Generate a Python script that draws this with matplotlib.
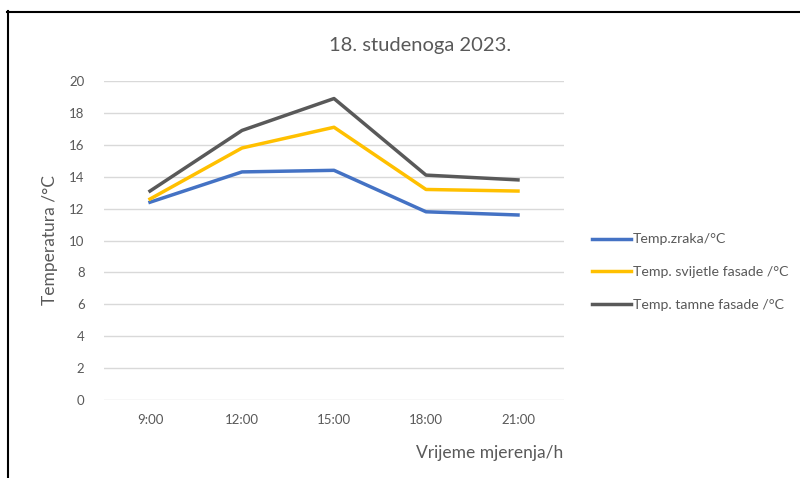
import matplotlib
matplotlib.use("Agg")
from matplotlib import pyplot as plt
from matplotlib.lines import Line2D

plt.rcParams['font.family'] = ['Lato', 'DejaVu Sans']

times = ["9:00", "12:00", "15:00", "18:00", "21:00"]
zrak = [12.4, 14.3, 14.4, 11.8, 11.6]
svijetla = [12.6, 15.8, 17.1, 13.2, 13.1]
tamna = [13.1, 16.9, 18.9, 14.1, 13.8]

grey_text = '#595959'

fig = plt.figure(figsize=(8, 4.78), dpi=100)
ax = fig.add_axes([104/800, 1 - 400/478, 460/800, 319/478])

x = range(len(times))
ax.plot(x, zrak, color='#4472c4', lw=2.5, label='Temp.zraka/°C')
ax.plot(x, svijetla, color='#ffc000', lw=2.5, label='Temp. svijetle fasade /°C')
ax.plot(x, tamna, color='#595959', lw=2.5, label='Temp. tamne fasade /°C')

ax.set_xlim(-0.5, 4.5)
ax.set_ylim(0, 20)
ax.set_yticks(range(0, 21, 2))
ax.set_xticks(list(x))
ax.set_xticklabels(times)
ax.grid(axis='y', color='#d9d9d9', lw=1)
ax.set_axisbelow(True)
for s in ax.spines.values():
    s.set_visible(False)
ax.tick_params(length=0, colors=grey_text, labelsize=9.5)
ax.tick_params(axis='y', pad=14)
ax.tick_params(axis='x', pad=10)

fig.text(420/800, 1 - 46/478, "18. studenoga 2023.", ha='center', va='center',
         fontsize=14.5, color=grey_text)
fig.text(50/800, 1 - 240/478, "Temperatura /°C", rotation=90, ha='center', va='center',
         fontsize=12.5, color=grey_text)
fig.text(563/800, 1 - 453/478, "Vrijeme mjerenja/h", ha='right', va='center',
         fontsize=12.5, color=grey_text)

fig.legend(loc='center left', bbox_to_anchor=(579/800, 1 - 272/478), frameon=False,
           fontsize=10.2, labelcolor=grey_text, handlelength=2.75, handletextpad=0.15,
           labelspacing=1.45, borderpad=0.4)

# outer border
fig.add_artist(Line2D([7.5/800, 7.5/800], [0, 1 - 11/478], color='black', lw=1.5,
                      transform=fig.transFigure))
fig.add_artist(Line2D([7/800, 1], [1 - 11.5/478, 1 - 11.5/478], color='black', lw=1.5,
                      transform=fig.transFigure))

fig.savefig("out.png", dpi=100)
